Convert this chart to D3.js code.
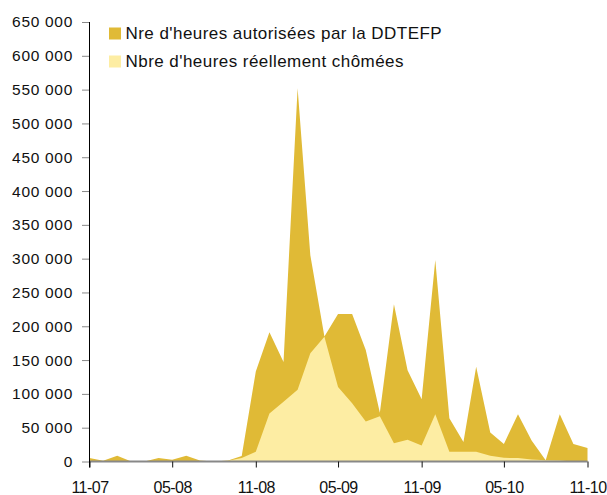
<!DOCTYPE html>
<html>
<head>
<meta charset="utf-8">
<script src="https://cdn.jsdelivr.net/npm/d3@7"></script>
<style>
	body { margin: 0; background: #fff; }
	text { font-family: "Liberation Sans", Arial, sans-serif; fill: #111; }
</style>
</head>
<body>
<div id="chart"></div>
<script>
	// monthly data, 11-2007 .. 11-2010
	var startMonth = new Date(2007, 10, 1);
	var endMonth = new Date(2010, 10, 1);

	var autorisees = [
		5000, 1000, 8500, 0, 0, 5000, 2500, 8500, 1500, 0, 1500, 8000,
		133000, 191000, 147000, 552000, 305000, 185000, 218000, 218000, 165000, 72000, 232500, 135000,
		92000, 298000, 64000, 29000, 140000, 43000, 26000, 70000, 31000, 2000, 70000, 26000,
		20000
	];

	var chomees = [
		0, 0, 0, 0, 0, 0, 0, 0, 0, 0, 1000, 5000,
		14500, 71000, 88500, 106000, 160000, 184600, 110000, 86000, 59000, 67000, 27000, 32000,
		23500, 70000, 14500, 14500, 14500, 8500, 5500, 5000, 3000, 2000, 1500, 0,
		0
	];

	var seriesNames = ["Nre d'heures autorisées par la DDTEFP", "Nbre d'heures réellement chômées"];
	var seriesColors = ["#E0BA36", "#FDEDA3"];
	var yTicks = d3.range(0, 650001, 50000);

	var width = 607;
	var height = 495;
	var margin = { top: 22, right: 20, bottom: 33.5, left: 89.5 };

	var months = d3.timeMonth.range(startMonth, d3.timeMonth.offset(endMonth, 1));
	var xTicks = months.filter(function(d, i) { return i % 6 === 0; });

	var xScale = d3.scaleTime()
		.domain([startMonth, endMonth])
		.range([margin.left, margin.left + 498]);

	var yScale = d3.scaleLinear()
		.domain([0, 650000])
		.range([height - margin.bottom, margin.top]);

	var svg = d3.select('#chart')
		.append('svg')
		.attr('width', width)
		.attr('height', height);

	function makeArea(values) {
		return d3.area()
			.x(function(d, i) { return xScale(months[i]); })
			.y0(yScale(0))
			.y1(function(d) { return yScale(d); })(values);
	}

	svg.append('path')
		.attr('d', makeArea(autorisees))
		.attr('fill', seriesColors[0]);

	svg.append('path')
		.attr('d', makeArea(chomees))
		.attr('fill', seriesColors[1]);

	// y axis
	var fmt = function(d) { return d3.format(',')(d).replace(/,/g, ' '); };

	var yAxis = svg.append('g')
		.attr('transform', `translate(${margin.left}, 0)`)
		.call(d3.axisLeft(yScale).tickValues(yTicks).tickFormat(fmt).tickSize(7.5).tickPadding(9));

	yAxis.select('.domain').remove();
	yAxis.selectAll('.tick line').attr('stroke', '#888');
	yAxis.selectAll('.tick text')
		.attr('font-size', '15.5px')
		.attr('letter-spacing', '0.7px')
		.attr('fill', '#111');

	// x axis
	var xAxis = svg.append('g')
		.attr('transform', `translate(0, ${yScale(0)})`)
		.call(d3.axisBottom(xScale).tickValues(xTicks).tickFormat(d3.timeFormat('%m-%y')).tickSize(6).tickPadding(14));

	xAxis.select('.domain').attr('stroke', '#888').attr('stroke-width', 2)
		.attr('d', `M${margin.left},0H${margin.left + 498}`);
	xAxis.selectAll('.tick line').attr('stroke', '#111');
	xAxis.selectAll('.tick text')
		.attr('font-size', '16px')
		.attr('letter-spacing', '-0.5px')
		.attr('fill', '#111');

	svg.append('line')
		.attr('x1', margin.left).attr('x2', margin.left)
		.attr('y1', yScale(650000)).attr('y2', yScale(0) + 6)
		.attr('stroke', '#000').attr('stroke-width', 1);

	// legend
	var legend = svg.append('g').attr('transform', 'translate(109, 27.5)');

	seriesNames.forEach(function(name, i) {
		var g = legend.append('g').attr('transform', `translate(0, ${i * 28})`);
		g.append('rect')
			.attr('width', 12).attr('height', 12)
			.attr('fill', seriesColors[i]);
		g.append('text')
			.attr('x', 16.5).attr('y', 11)
			.attr('font-size', '17px')
			.attr('letter-spacing', '0.45px')
			.text(name);
	});
</script>
</body>
</html>
